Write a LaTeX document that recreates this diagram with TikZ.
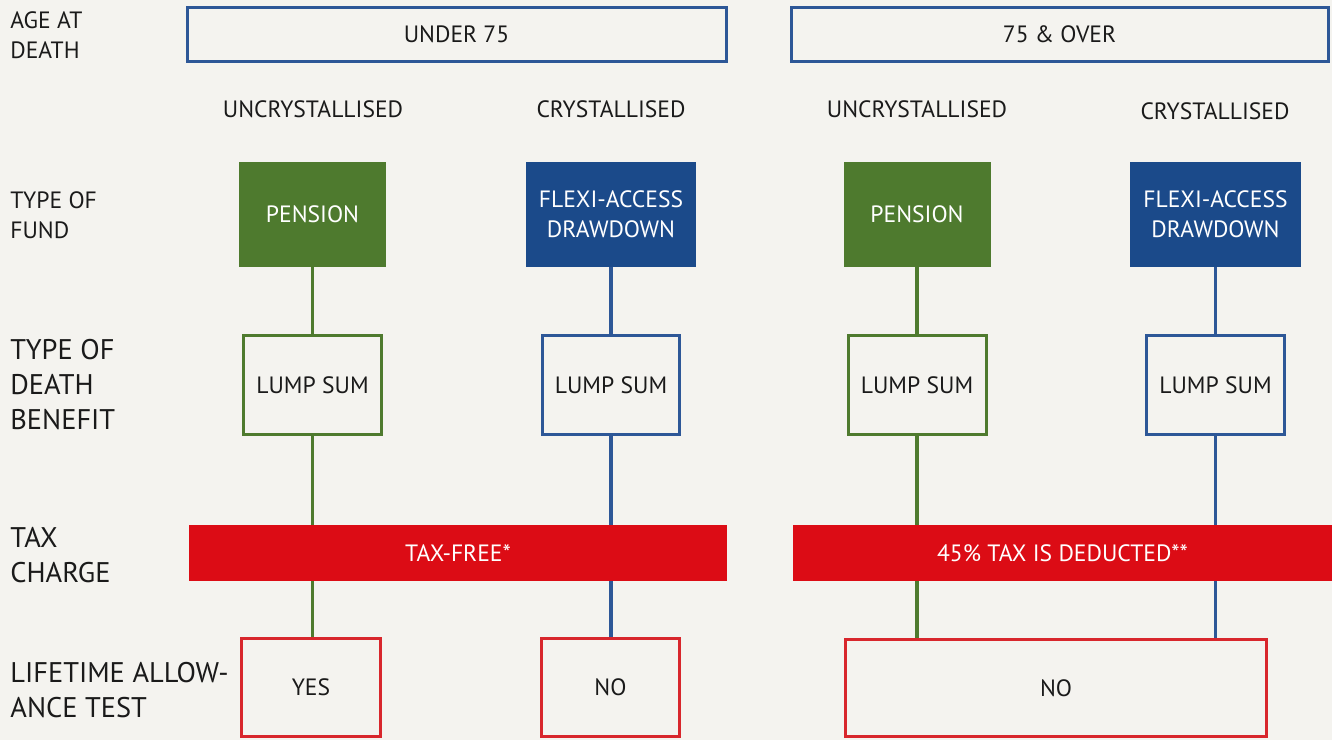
\documentclass[tikz,border=0pt]{standalone}
\usepackage{fontspec}
\setmainfont{PT Sans}
\definecolor{bg}{HTML}{F4F3EF}
\definecolor{gfill}{HTML}{4E7A2E}
\definecolor{bfill}{HTML}{1B4A8A}
\definecolor{bline}{HTML}{2D5797}
\definecolor{rfill}{HTML}{DC0C15}
\definecolor{rline}{HTML}{D8262C}
\definecolor{txt}{HTML}{1A1A1A}
\begin{document}
\begin{tikzpicture}[x=0.5pt,y=-0.5pt,
  sm/.style={font=\fontsize{11.8}{15}\selectfont, text=txt, align=center, inner sep=0pt},
  lg/.style={font=\fontsize{14.2}{17.5}\selectfont, text=txt, align=left, inner sep=0pt, anchor=west},
  lbl/.style={font=\fontsize{11.8}{15}\selectfont, text=txt, align=left, inner sep=0pt, anchor=west},
  box/.style={draw, line width=1.5pt, fill=bg, inner sep=0pt, font=\fontsize{11.8}{15}\selectfont, text=txt, align=center},
  fbox/.style={fill, inner sep=0pt, font=\fontsize{11.8}{15}\selectfont, text=white, align=center},
  conn/.style={line width=1.6pt}
]
\fill[bg] (0,0) rectangle (1332,740);
\useasboundingbox (0,0) rectangle (1332,740);

% row labels
\node[lbl] (l1) at (10,35) {AGE AT\\DEATH};
\node[lbl] (l2) at (10,215) {TYPE OF\\FUND};
\node[lg] (l3) at (10,385) {TYPE OF\\DEATH\\BENEFIT};
\node[lg] (l4) at (10,555) {TAX\\CHARGE};
\node[lg] (l5) at (10,690) {LIFETIME ALLOW-\\ANCE TEST};

% age boxes
\node[box, draw=bline, minimum width=269.5pt, minimum height=27pt] (u75) at (456.5,34.5) {UNDER 75};
\node[box, draw=bline, minimum width=268.5pt, minimum height=27pt] (o75) at (1059.5,34.5) {75 \& OVER};

% column headers
\node[sm] (h1) at (313,109) {UNCRYSTALLISED};
\node[sm] (h2) at (611,109) {CRYSTALLISED};
\node[sm] (h3) at (917,109) {UNCRYSTALLISED};
\node[sm] (h4) at (1215,111) {CRYSTALLISED};

% fund type
\node[fbox, fill=gfill, minimum width=73.5pt, minimum height=52.5pt] (p1) at (312.5,214.5) {PENSION};
\node[fbox, fill=bfill, minimum width=85pt, minimum height=52.5pt] (f1) at (611,214.5) {FLEXI-ACCESS\\DRAWDOWN};
\node[fbox, fill=gfill, minimum width=73.5pt, minimum height=52.5pt] (p2) at (917,214.5) {PENSION};
\node[fbox, fill=bfill, minimum width=85.5pt, minimum height=52.5pt] (f2) at (1215.5,214.5) {FLEXI-ACCESS\\DRAWDOWN};

% lump sums
\node[box, draw=gfill, minimum width=69pt, minimum height=49.5pt] (s1) at (312.5,385) {LUMP SUM};
\node[box, draw=bline, minimum width=68.5pt, minimum height=49.5pt] (s2) at (611,385) {LUMP SUM};
\node[box, draw=gfill, minimum width=69pt, minimum height=49.5pt] (s3) at (917,385) {LUMP SUM};
\node[box, draw=bline, minimum width=69pt, minimum height=49.5pt] (s4) at (1215.5,385) {LUMP SUM};

% tax bars
\node[fbox, fill=rfill, minimum width=269pt, minimum height=28pt] (t1) at (458,553) {TAX-FREE*};
\node[fbox, fill=rfill, minimum width=269.5pt, minimum height=28pt] (t2) at (1062.5,553) {45\% TAX IS DEDUCTED**};

% lifetime allowance
\node[box, draw=rline, minimum width=69.5pt, minimum height=49pt] (y1) at (311,687.5) {YES};
\node[box, draw=rline, minimum width=69pt, minimum height=49pt] (n1) at (610.5,687.5) {NO};
\node[box, draw=rline, minimum width=210.5pt, minimum height=48.5pt] (n2) at (1056,688) {NO};

% connectors
\draw[conn, gfill] (p1.south) -- (s1.north);
\draw[conn, bline] (f1.south) -- (s2.north);
\draw[conn, gfill] (p2.south) -- (s3.north);
\draw[conn, bline] (f2.south) -- (s4.north);

\draw[conn, gfill] (s1.south) -- (s1.south |- t1.north);
\draw[conn, bline] (s2.south) -- (s2.south |- t1.north);
\draw[conn, gfill] (s3.south) -- (s3.south |- t2.north);
\draw[conn, bline] (s4.south) -- (s4.south |- t2.north);

\draw[conn, gfill] (s1.south |- t1.south) -- (s1.south |- y1.north);
\draw[conn, bline] (s2.south |- t1.south) -- (s2.south |- n1.north);
\draw[conn, gfill] (s3.south |- t2.south) -- (s3.south |- n2.north);
\draw[conn, bline] (s4.south |- t2.south) -- (s4.south |- n2.north);
\end{tikzpicture}
\end{document}
